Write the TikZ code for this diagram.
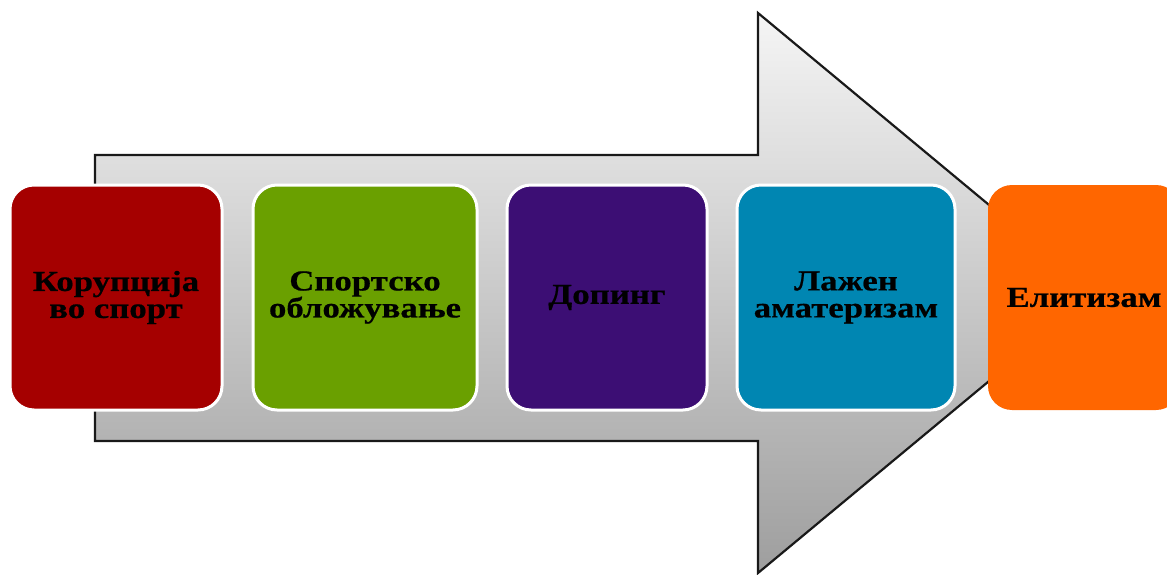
\documentclass[tikz,border=0pt]{standalone}
\usepackage{fontspec}
\newfontfamily\boxfont{Liberation Serif}[FakeStretch=1.2, FakeBold=0.6]
\definecolor{cred}{HTML}{A50000}
\definecolor{cgreen}{HTML}{6AA000}
\definecolor{cpurple}{HTML}{3C0E74}
\definecolor{cteal}{HTML}{0086B2}
\definecolor{corange}{HTML}{FF6600}
\tikzset{
  stagebox/.style={draw=white, line width=3pt, rounded corners=24pt, minimum height=225pt,
    align=center, text=black, font=\boxfont\bfseries\fontsize{29}{27}\selectfont},
  bigarrow/.style={top color=black!4, bottom color=black!38, draw=black!90, line width=2.2pt, line join=miter}
}
\begin{document}
\begin{tikzpicture}[x=1pt,y=-1pt]
\useasboundingbox (0,0) rectangle (1167,575);
\path[bigarrow] (95,155) -- (758,155) -- (758,13) -- (1095,293) -- (758,573) -- (758,441) -- (95,441) -- cycle;
\node[stagebox, fill=cred, minimum width=212pt] (b1) at (116,297.5) {Корупција\\во спорт};
\node[stagebox, fill=cgreen, minimum width=224pt] (b2) at (365,297.5) {Спортско\\обложување};
\node[stagebox, fill=cpurple, minimum width=200pt] (b3) at (607,297.5) {Допинг};
\node[stagebox, fill=cteal, minimum width=218pt] (b4) at (846,297.5) {Лажен\\аматеризам};
\node[stagebox, draw=none, fill=corange, minimum width=192pt] (b5) at (1084,297.5) {Елитизам};
\end{tikzpicture}
\end{document}
